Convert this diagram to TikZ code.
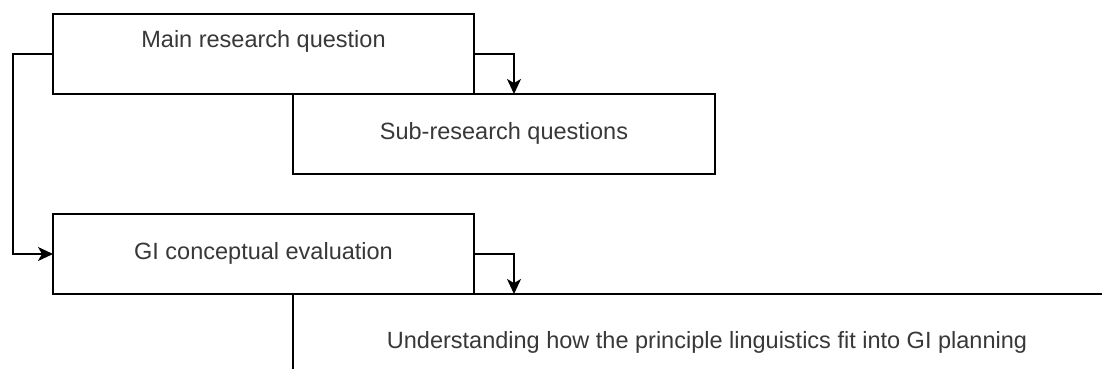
\documentclass[tikz,border=0pt]{standalone}
\usepackage{fontspec}
\setmainfont{Liberation Sans}
\usetikzlibrary{arrows.meta}
\definecolor{txt}{HTML}{383838}
\begin{document}
\begin{tikzpicture}[x=1pt,y=-1pt,
  box/.style={draw=black, line width=1.6pt, fill=white, inner sep=0pt, outer sep=0pt,
    anchor=north west, text=txt, font=\fontsize{23.5}{28}\selectfont,
    text height=17pt, text depth=6pt},
  arr/.style={draw=black, line width=1.6pt, -{Stealth[length=15pt,width=14pt,inset=4pt]}}]
\useasboundingbox (0,0) rectangle (1102,369);
\clip (0,0) rectangle (1102,369);
\fill[white] (0,0) rectangle (1102,369);
\node[box, minimum width=421pt, minimum height=80pt, text depth=29pt] (main) at (53,14) {Main research question};
\node[box, minimum width=422pt, minimum height=80pt] (sub) at (293,94) {Sub-research questions};
\node[box, minimum width=421pt, minimum height=80pt] (gi) at (53,214) {GI conceptual evaluation};
\node[box, minimum width=828pt, minimum height=98pt] (und) at (293,294) {Understanding how the principle linguistics fit into GI planning};
\draw[arr] (main.east) -| ([xshift=40pt]main.south east);
\draw[arr] (main.west) -- ++(-40,0) |- (gi.west);
\draw[arr] (gi.east) -| ([xshift=40pt]gi.south east);
\end{tikzpicture}
\end{document}
